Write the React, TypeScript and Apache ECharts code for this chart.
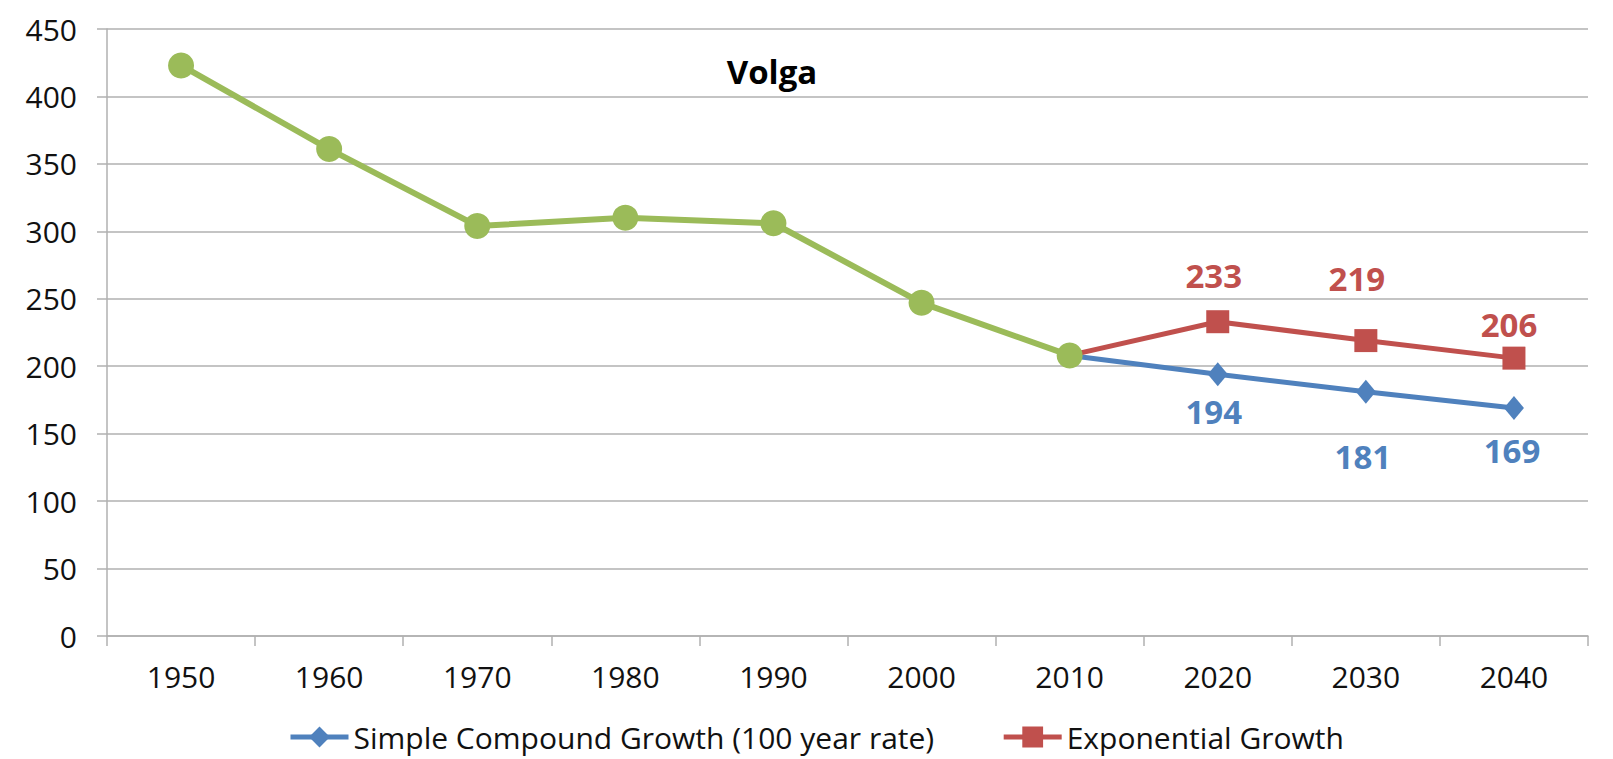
import React, { useEffect, useRef } from "react";
import * as echarts from "echarts";

const years = ["1950", "1960", "1970", "1980", "1990", "2000", "2010", "2020", "2030", "2040"];
const observed = [423, 361, 304, 310, 306, 247, 208, null, null, null];
const simpleCompound = [null, null, null, null, null, null, 208, 194, 181, 169];
const exponential = [null, null, null, null, null, null, 208, 233, 219, 206];
const yMin = 0;
const yMax = 450;
const yStep = 50;

const chartTitle = "Volga";
const simpleName = "Simple Compound Growth (100 year rate)";
const expName = "Exponential Growth";

// label placement per point (style only, not data)
const simpleLabelOffsets: (number[] | null)[] = [null, null, null, null, null, null, null, [-4, 37], [-3, 65], [-2, 42]];
const expLabelOffsets: (number[] | null)[] = [null, null, null, null, null, null, null, [-4, -46], [-9, -62], [-5, -34]];

const GREEN = "#9BBB59";
const BLUE = "#4F81BD";
const RED = "#C0504D";
const GRID = "#B0B0B0";
const FONT = "'Open Sans', sans-serif";

function withLabels(values: (number | null)[], offsets: (number[] | null)[], color: string) {
  return values.map((v, i) => {
    if (v === null) return null;
    const off = offsets[i];
    if (!off) return { value: v, symbol: "none", label: { show: false } };
    return {
      value: v,
      label: {
        show: true,
        position: "inside",
        offset: off,
        color,
        fontFamily: FONT,
        fontWeight: "bold",
        fontSize: 33,
      },
    };
  });
}

export default function App() {
  const ref = useRef<HTMLDivElement>(null);
  useEffect(() => {
    if (!ref.current) return;
    const chart = echarts.init(ref.current, null, { renderer: "svg" });
    chart.setOption({
      animation: false,
      backgroundColor: "#ffffff",
      grid: { left: 107, right: 25, top: 29, bottom: 123, containLabel: false },
      graphic: [
        {
          type: "text",
          x: 772,
          y: 71,
          style: {
            text: chartTitle,
            fontFamily: FONT,
            fontWeight: "bold",
            fontSize: 33,
            fill: "#000",
            textAlign: "center",
            textVerticalAlign: "middle",
          },
        },
      ],
      legend: {
        show: true,
        data: [simpleName, expName],
        left: 283,
        top: 716,
        itemWidth: 58,
        itemHeight: 26,
        itemGap: 67,
        lineStyle: { width: 5 },
        textStyle: { fontFamily: FONT, fontSize: 30, color: "#111", lineHeight: 32 },
      },
      xAxis: {
        type: "category",
        data: years,
        boundaryGap: true,
        axisLine: { show: true, lineStyle: { color: GRID, width: 1.5 } },
        axisTick: { show: true, length: 10, alignWithLabel: false, lineStyle: { color: GRID, width: 1.5 } },
        axisLabel: { margin: 25, fontFamily: FONT, fontSize: 30, color: "#111" },
        splitLine: { show: false },
      },
      yAxis: {
        type: "value",
        min: yMin,
        max: yMax,
        interval: yStep,
        axisLine: { show: true, lineStyle: { color: GRID, width: 1.5 } },
        axisTick: { show: true, length: 10, lineStyle: { color: GRID, width: 1.5 } },
        axisLabel: { margin: 30, fontFamily: FONT, fontSize: 30, color: "#111" },
        splitLine: { show: true, lineStyle: { color: GRID, width: 1.5 } },
      },
      series: [
        {
          name: simpleName,
          type: "line",
          data: withLabels(simpleCompound, simpleLabelOffsets, BLUE),
          symbol: "diamond",
          symbolSize: [20, 24],
          showAllSymbol: true,
          connectNulls: false,
          lineStyle: { color: BLUE, width: 5 },
          itemStyle: { color: BLUE },
          z: 2,
        },
        {
          name: expName,
          type: "line",
          data: withLabels(exponential, expLabelOffsets, RED),
          symbol: "rect",
          symbolSize: 23,
          showAllSymbol: true,
          connectNulls: false,
          lineStyle: { color: RED, width: 5 },
          itemStyle: { color: RED },
          z: 2,
        },
        {
          name: "Observed",
          type: "line",
          data: observed,
          symbol: "circle",
          symbolSize: 26,
          showAllSymbol: true,
          connectNulls: false,
          lineStyle: { color: GREEN, width: 6 },
          itemStyle: { color: GREEN },
          z: 3,
        },
      ],
    });
    return () => chart.dispose();
  }, []);
  return (
    <div
      ref={ref}
      style={{ position: "fixed", left: 0, top: 0, width: 1613, height: 759, background: "#fff" }}
    />
  );
}
